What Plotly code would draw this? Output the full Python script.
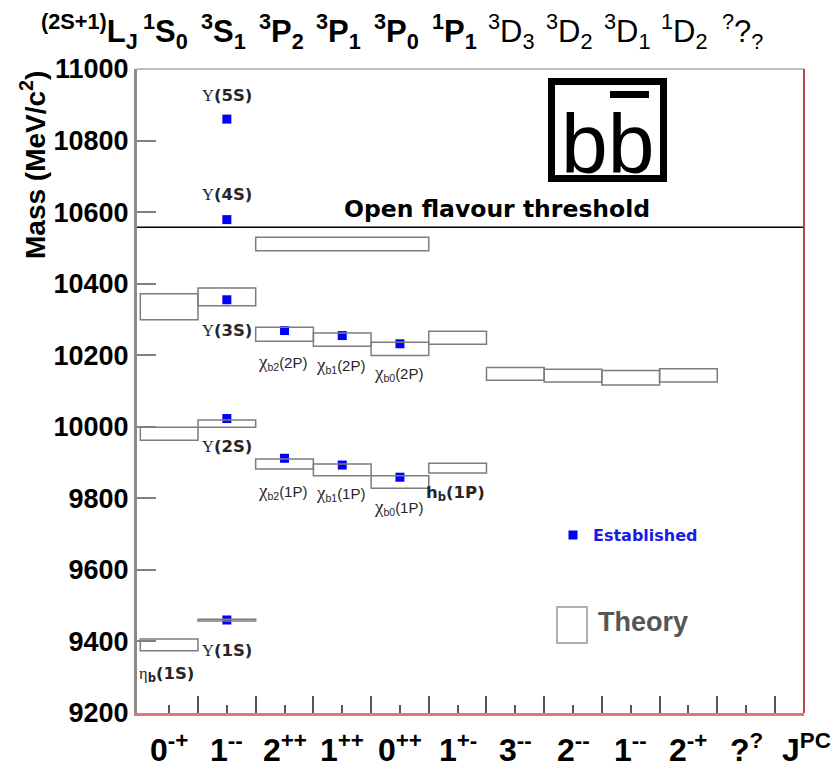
import plotly.graph_objects as go

# ---------------- data ----------------
# Column categories (J^PC along the bottom, spectroscopic term along the top)
jpc_labels = ["0<sup>-+</sup>", "1<sup>--</sup>", "2<sup>++</sup>", "1<sup>++</sup>", "0<sup>++</sup>",
              "1<sup>+-</sup>", "3<sup>--</sup>", "2<sup>--</sup>", "1<sup>--</sup>", "2<sup>-+</sup>",
              "?<sup>?</sup>"]
term_labels = ["<sup>1</sup>S<sub>0</sub>", "<sup>3</sup>S<sub>1</sub>", "<sup>3</sup>P<sub>2</sub>",
               "<sup>3</sup>P<sub>1</sub>", "<sup>3</sup>P<sub>0</sub>", "<sup>1</sup>P<sub>1</sub>",
               "<sup>3</sup>D<sub>3</sub>", "<sup>3</sup>D<sub>2</sub>", "<sup>3</sup>D<sub>1</sub>",
               "<sup>1</sup>D<sub>2</sub>", "<sup>?</sup>?<sub>?</sub>"]
term_bold = [True, True, True, True, True, True, False, False, False, False, False]

# Established bottomonium states: column index and mass (MeV/c^2)
est_names = ["Υ(1S)", "Υ(2S)", "Υ(3S)", "Υ(4S)", "Υ(5S)",
             "χb2(1P)", "χb1(1P)", "χb0(1P)", "χb2(2P)", "χb1(2P)", "χb0(2P)"]
est_column = [1, 1, 1, 1, 1, 2, 3, 4, 2, 3, 4]
est_mass = [9460, 10023, 10355, 10579, 10860, 9912, 9893, 9859, 10269, 10255, 10232]

# Theory predictions: column span [start, end) and mass band (MeV/c^2)
th_names = ["ηb(1S)", "ηb(2S)", "ηb(3S)", "Υ(1S)", "Υ(2S)", "Υ(3S)",
            "χb2(1P)", "χb2(2P)", "χb1(1P)", "χb1(2P)", "χb0(1P)", "χb0(2P)",
            "hb(1P)", "hb(2P)", "χb(3P)", "3D3", "3D2", "3D1", "1D2"]
th_col_start = [0, 0, 0, 1, 1, 1, 2, 2, 3, 3, 4, 4, 5, 5, 2, 6, 7, 8, 9]
th_col_end = [1, 1, 1, 2, 2, 2, 3, 3, 4, 4, 5, 5, 6, 6, 5, 7, 8, 9, 10]
th_low = [9374, 9962, 10299, 9457, 9999, 10338, 9882, 10239, 9863, 10225, 9828, 10199,
          9871, 10231, 10492, 10130, 10125, 10117, 10125]
th_high = [9407, 9999, 10372, 9462, 10019, 10388, 9910, 10278, 9896, 10262, 9863, 10236,
           9898, 10267, 10530, 10166, 10161, 10157, 10162]

open_flavour_threshold = 10558
y_ticks = [9200, 9400, 9600, 9800, 10000, 10200, 10400, 10600, 10800, 11000]
y_tick_text = [str(v) for v in y_ticks]

# ---------------- layout helpers ----------------
W, H = 833, 777
ML, MR, MT, MB = 137, 29, 69, 64
X_RANGE = [-0.057, 11.503]
Y_RANGE = [9200, 11000]
PW, PH = W - ML - MR, H - MT - MB


def paper_x(px):
    return (px - ML) / PW


def paper_y(py):
    return (H - MB - py) / PH


SANS = "Liberation Sans, Arial, sans-serif"
WIDE = "DejaVu Sans, sans-serif"
LABEL_COLOR = "#262626"

fig = go.Figure()

# theory bands as open rectangles
for c0, c1, lo, hi in zip(th_col_start, th_col_end, th_low, th_high):
    fig.add_shape(type="rect", xref="x", yref="y", x0=c0, x1=c1, y0=lo, y1=hi,
                  line=dict(color="#7d7d7d", width=1.5), fillcolor="rgba(0,0,0,0)")

# open flavour threshold
fig.add_shape(type="line", xref="paper", yref="y", x0=0, x1=1,
              y0=open_flavour_threshold, y1=open_flavour_threshold,
              line=dict(color="black", width=1.5))

# established states
fig.add_trace(go.Scatter(
    x=[c + 0.5 for c in est_column], y=est_mass, mode="markers",
    marker=dict(symbol="square", size=9, color="#0000ff", line=dict(width=0)),
    text=est_names, hoverinfo="text+y", showlegend=False))

annotations = []


def add_text(text, x, y, size, family=WIDE, color=LABEL_COLOR, weight="bold",
             xanchor="center", yanchor="middle", xref="x", yref="y", **kw):
    annotations.append(dict(text=text, x=x, y=y, xref=xref, yref=yref, showarrow=False,
                            xanchor=xanchor, yanchor=yanchor,
                            font=dict(family=family, size=size, color=color, weight=weight),
                            **kw))


UPS = "<span style='font-family:Liberation Serif;font-weight:normal'>Υ</span>"
CHI = "<span style='font-family:Liberation Serif;font-size:19px'>χ</span>"
ETA = "<span style='font-family:Liberation Serif;font-weight:normal'>η</span>"

# state labels (position in column units / mass units)
ups_labels = [(UPS + "(5S)", 1.5, 10927), (UPS + "(4S)", 1.5, 10648),
              (UPS + "(3S)", 1.5, 10270), (UPS + "(2S)", 1.5, 9944),
              (UPS + "(1S)", 1.5, 9376), (ETA + "<sub>b</sub>(1S)", 0.45, 9309),
              ("h<sub>b</sub>(1P)", 5.47, 9814)]
for t, x, y in ups_labels:
    add_text(t, x, y, 16.5)

chi_labels = [("b2", "2P", 2.47, 10182), ("b1", "2P", 3.47, 10173), ("b0", "2P", 4.47, 10151),
              ("b2", "1P", 2.47, 9820), ("b1", "1P", 3.47, 9816), ("b0", "1P", 4.47, 9777)]
for sub, n, x, y in chi_labels:
    add_text(CHI + "<sub>" + sub + "</sub>(" + n + ")", x, y, 15, family=SANS, weight="normal")

# threshold caption
add_text("Open flavour threshold", 6.18, open_flavour_threshold, 23.5,
         family=WIDE, color="black", yanchor="bottom", yshift=2)

# J^PC labels below the axis
for i, t in enumerate(jpc_labels):
    add_text(t, i + 0.5, paper_y(748), 32, family=SANS, color="black", yref="paper")
add_text("J<sup>PC</sup>", paper_x(806), paper_y(748), 32, family=SANS, color="black",
         xref="paper", yref="paper")

# spectroscopic terms above the plot
for i, (t, b) in enumerate(zip(term_labels, term_bold)):
    add_text(t, i + 0.5 - 0.06, paper_y(31), 31, family=SANS, color="black", yref="paper",
             weight="bold" if b else "normal")
add_text("<sup>(2S+1)</sup>L<sub>J</sub>", paper_x(89), paper_y(31), 31, family=SANS,
         color="black", xref="paper", yref="paper")

# axis title
add_text("Mass (MeV/c<sup>2</sup>)", paper_x(33), 1.0, 28, family=SANS, color="black",
         xref="paper", yref="paper", yanchor="top", textangle=-90)

# legend: established
fig.add_shape(type="rect", xref="paper", yref="paper", x0=paper_x(568.5), x1=paper_x(577.5),
              y0=paper_y(539.5), y1=paper_y(530.5), line=dict(width=0), fillcolor="#0000ff")
add_text("Established", paper_x(591), paper_y(535), 16, family=WIDE, color="#1a1ae6",
         xanchor="left", xref="paper", yref="paper")
# legend: theory
fig.add_shape(type="rect", xref="paper", yref="paper", x0=paper_x(557), x1=paper_x(587),
              y0=paper_y(643), y1=paper_y(607), line=dict(color="#b0b0b0", width=2))
add_text("Theory", paper_x(596), paper_y(622), 27, family=SANS, color="#555555",
         xanchor="left", xref="paper", yref="paper")

# b b-bar logo
fig.add_shape(type="rect", xref="paper", yref="paper", x0=paper_x(551.5), x1=paper_x(663.5),
              y0=paper_y(178.5), y1=paper_y(81.5), line=dict(color="black", width=7))
fig.add_shape(type="rect", xref="paper", yref="paper", x0=paper_x(610), x1=paper_x(649),
              y0=paper_y(98), y1=paper_y(91), line=dict(width=0), fillcolor="black")
add_text("bb", paper_x(607), paper_y(144), 84, family=SANS, color="black", weight="normal",
         xref="paper", yref="paper")

# frame: top (grey) and right (red)
fig.add_shape(type="line", xref="paper", yref="paper", x0=0, x1=1, y0=1, y1=1,
              line=dict(color="#a8a8a8", width=1.5))
fig.add_shape(type="line", xref="paper", yref="paper", x0=1, x1=1, y0=0, y1=1,
              line=dict(color="#b84444", width=2))

fig.update_layout(
    width=W, height=H, margin=dict(l=ML, r=MR, t=MT, b=MB, pad=0),
    paper_bgcolor="white", plot_bgcolor="white", showlegend=False,
    annotations=annotations,
    xaxis=dict(range=X_RANGE, showgrid=False, zeroline=False,
               tickvals=[i + 0.5 for i in range(11)], showticklabels=False,
               ticks="inside", ticklen=8, tickwidth=2, tickcolor="#555555",
               minor=dict(tickvals=list(range(1, 12)), ticks="inside", ticklen=17,
                          tickwidth=2, tickcolor="#555555"),
               showline=True, linecolor="#e57373", linewidth=2.5),
    yaxis=dict(range=Y_RANGE, showgrid=False, zeroline=False,
               tickvals=y_ticks, ticktext=y_tick_text,
               ticks="inside", ticklen=19, tickwidth=2, tickcolor="#808080",
               tickfont=dict(family=SANS, size=27, color="black", weight="bold"),
               ticklabelstandoff=0,
               showline=True, linecolor="#8c8c8c", linewidth=3),
)

fig.write_html("out.html")
